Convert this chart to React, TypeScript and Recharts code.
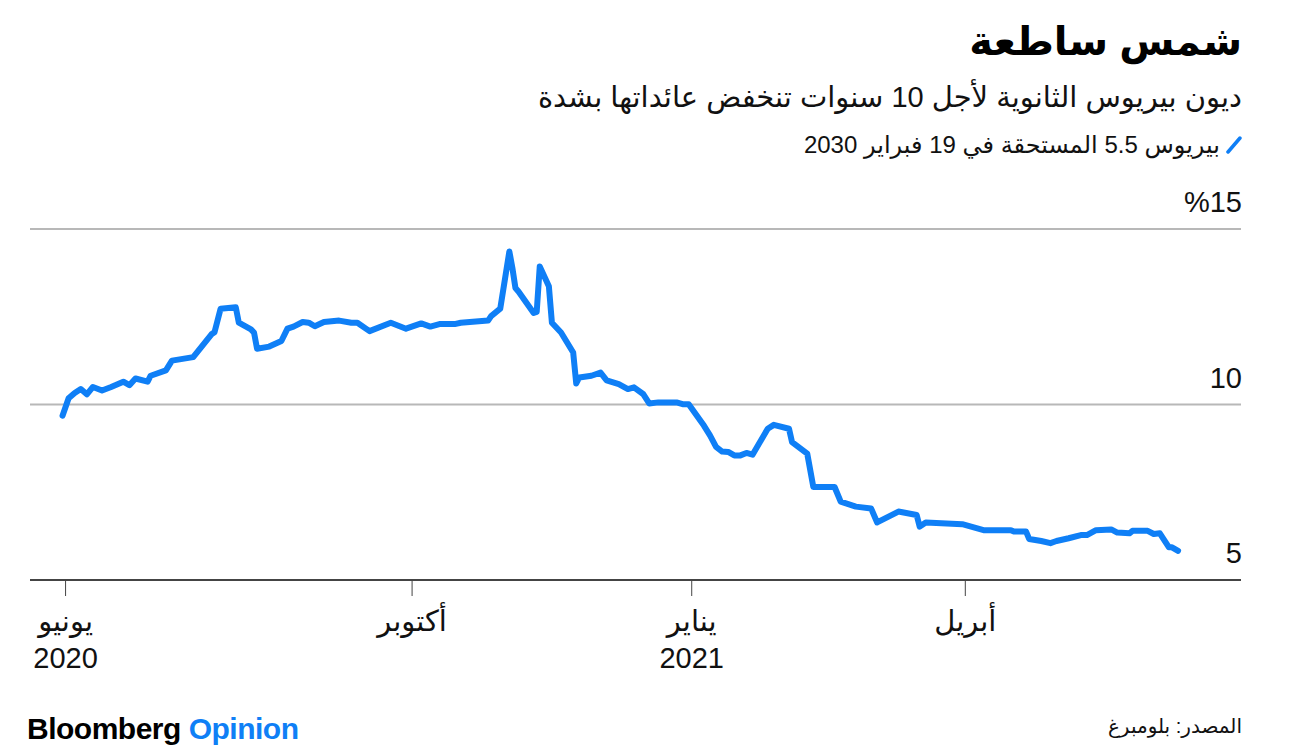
import React from 'react';
import { LineChart, Line, XAxis, YAxis, CartesianGrid } from 'recharts';

// days counted from 1 June 2020
const dayOffsets = [
  7, 9, 11, 13, 15, 17, 20, 23, 27, 29, 31, 35, 36, 41, 43, 50, 56, 57, 59, 64,
  65, 69, 70, 71, 75, 79, 81, 83, 86, 88, 90, 93, 98, 102, 104, 108, 115, 120, 125, 128,
  131, 136, 138, 141, 147, 148, 151, 154, 155, 156, 157, 162, 163, 164, 167, 168, 171, 175, 176, 177,
  181, 184, 186, 190, 193, 195, 198, 200, 203, 209, 211, 213, 218, 220, 222, 224, 226, 228, 230, 232,
  234, 239, 241, 246, 247, 252, 254, 261, 263, 268, 273, 275, 282, 288, 289, 291, 303, 310, 319, 320,
  324, 325, 329, 332, 334, 338, 342, 344, 347, 352, 354, 358, 359, 364, 366, 368, 371, 372, 374,
];

const yields = [
  9.68, 10.18, 10.33, 10.44, 10.29, 10.5, 10.4, 10.5, 10.65, 10.55, 10.74, 10.65, 10.82, 10.97, 11.25, 11.35, 12.0, 12.06, 12.73, 12.77,
  12.33, 12.14, 12.05, 11.59, 11.65, 11.81, 12.16, 12.22, 12.35, 12.33, 12.23, 12.35, 12.39, 12.33, 12.33, 12.09, 12.33, 12.16, 12.31, 12.22,
  12.29, 12.29, 12.33, 12.35, 12.39, 12.52, 12.73, 14.36, 13.89, 13.32, 13.22, 12.61, 12.64, 13.93, 13.37, 12.33, 12.05, 11.48, 10.6, 10.77,
  10.82, 10.91, 10.69, 10.58, 10.44, 10.49, 10.3, 10.03, 10.06, 10.06, 10.01, 10.01, 9.4, 9.12, 8.79, 8.66, 8.65, 8.55, 8.55, 8.62,
  8.57, 9.31, 9.42, 9.31, 8.93, 8.6, 7.65, 7.65, 7.23, 7.09, 7.04, 6.64, 6.95, 6.85, 6.52, 6.64, 6.59, 6.42, 6.42, 6.38,
  6.38, 6.17, 6.11, 6.05, 6.11, 6.19, 6.28, 6.28, 6.42, 6.44, 6.35, 6.33, 6.4, 6.4, 6.31, 6.33, 5.93, 5.93, 5.83,
];

const xTicks = [8, 122, 214, 304];
const xTickMonths = ['يونيو', 'أكتوبر', 'يناير', 'أبريل'];
const xTickYears = ['2020', '', '2021', ''];
const yTicks = [5, 10, 15];
const gridValues = [10, 15];

const title = 'شمس ساطعة';
const subtitle = 'ديون بيريوس الثانوية لأجل 10 سنوات تنخفض عائداتها بشدة';
const seriesName = 'بيريوس 5.5 المستحقة في 19 فبراير 2030';
const source = 'المصدر: بلومبرغ';

const BLUE = '#0f7ff6';
const FONT = "'Liberation Sans', 'DejaVu Sans', sans-serif";

const data = dayOffsets.map((day, i) => ({ day, value: yields[i] }));

const MonthTick = (props: any) => {
  const { x, y, payload } = props;
  const i = xTicks.indexOf(payload.value);
  return (
    <g>
      <text x={x} y={y + 25} textAnchor="middle" dominantBaseline="central" fontSize={29} fill="#111" fontFamily={FONT}>
        {xTickMonths[i]}
      </text>
      {xTickYears[i] && (
        <text x={x} y={y + 62} textAnchor="middle" dominantBaseline="central" fontSize={29} fill="#111" fontFamily={FONT}>
          {xTickYears[i]}
        </text>
      )}
    </g>
  );
};

const ValueTick = (props: any) => {
  const { y, payload } = props;
  const label = payload.value === 15 ? '%15' : String(payload.value);
  return (
    <text x={1242} y={y - 27} textAnchor="end" dominantBaseline="central" fontSize={29} fill="#111" fontFamily={FONT}>
      {label}
    </text>
  );
};

export default function App() {
  return (
    <div style={{ position: 'absolute', left: 0, top: 0, width: 1297, height: 754, background: '#fff', fontFamily: FONT, direction: 'rtl' }}>
      <div style={{ position: 'absolute', right: 55, top: 18, fontSize: 40, fontWeight: 'bold', color: '#000', whiteSpace: 'nowrap' }}>
        {title}
      </div>
      <div style={{ position: 'absolute', right: 55, top: 80, fontSize: 29, color: '#111', whiteSpace: 'nowrap' }}>
        {subtitle}
      </div>
      <div style={{ position: 'absolute', right: 55, top: 131, fontSize: 24, color: '#111', whiteSpace: 'nowrap', display: 'flex', alignItems: 'center', gap: 6 }}>
        <svg width={16} height={18}>
          <line x1={2} y1={16} x2={14} y2={2} stroke={BLUE} strokeWidth={3.5} strokeLinecap="round" />
        </svg>
        <span>{seriesName}</span>
      </div>
      <div style={{ position: 'absolute', left: 0, top: 0, direction: 'ltr' }}>
        <LineChart width={1297} height={754} data={data} margin={{ top: 229, right: 0, bottom: 74, left: 30 }}>
          <CartesianGrid vertical={false} horizontalValues={gridValues} stroke="#b8b8b8" strokeWidth={2} />
          <XAxis
            dataKey="day"
            type="number"
            domain={[-3.7, 394.7]}
            ticks={xTicks}
            allowDataOverflow
            height={100}
            axisLine={{ stroke: '#444', strokeWidth: 2 }}
            tickLine={{ stroke: '#444', strokeWidth: 1 }}
            tickSize={16}
            tickMargin={0}
            tick={<MonthTick />}
          />
          <YAxis
            orientation="right"
            type="number"
            domain={[5, 15]}
            ticks={yTicks}
            width={56}
            axisLine={false}
            tickLine={false}
            tickSize={0}
            tickMargin={0}
            tick={<ValueTick />}
          />
          <Line
            type="linear"
            dataKey="value"
            stroke={BLUE}
            strokeWidth={6}
            strokeLinejoin="round"
            strokeLinecap="round"
            dot={false}
            isAnimationActive={false}
          />
        </LineChart>
      </div>
      <div style={{ position: 'absolute', left: 27, top: 712, fontSize: 30, fontWeight: 'bold', color: '#000', direction: 'ltr', fontFamily: "'Liberation Sans', sans-serif", letterSpacing: -0.5 }}>
        Bloomberg <span style={{ color: BLUE }}>Opinion</span>
      </div>
      <div style={{ position: 'absolute', right: 55, top: 714, fontSize: 20, color: '#111', whiteSpace: 'nowrap' }}>
        {source}
      </div>
    </div>
  );
}
